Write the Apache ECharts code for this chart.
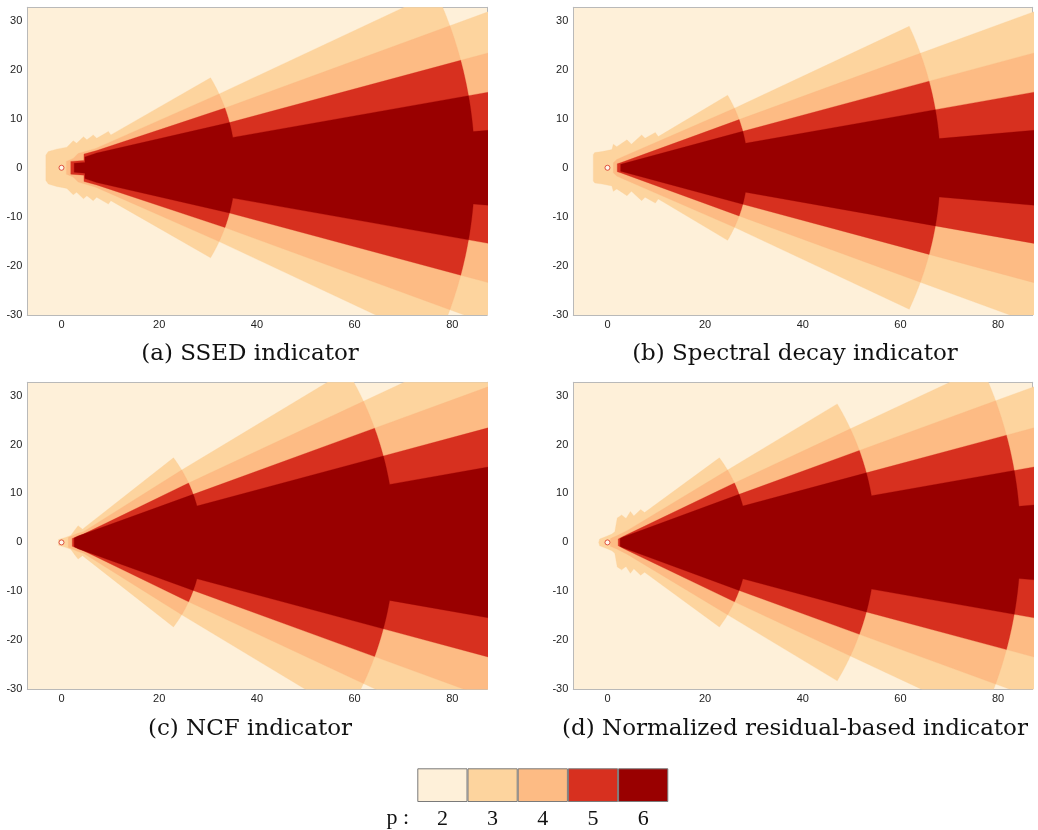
<!DOCTYPE html>
<html>
<head>
<meta charset="utf-8">
<style>
  html, body { margin: 0; padding: 0; background: #ffffff; }
  #chart { width: 1038px; height: 830px; }
</style>
<script src="https://cdn.jsdelivr.net/npm/echarts@6/dist/echarts.min.js"></script>
</head>
<body>
<div id="chart"></div>
<script>
// ---------------- DATA ----------------
const pLevels = [2, 3, 4, 5, 6];
const panelTitles = ['(a) SSED indicator', '(b) Spectral decay indicator',
                     '(c) NCF indicator', '(d) Normalized residual-based indicator'];

// Panel (a) SSED: mesh arcs (radius) where p changes, angle (deg) of the p-boundary in each ring, near-cylinder cell outline
const ssedArcRadii = [35.6, 84.6];
const ssedArcAngles = [[31, 25, 20], [25, 20, 15], [20, 15, 10], [15, 10, 5]];
const ssedNearCells = [
  [[-3.2,0],[-3.2,2.6],[-2.7,3.3],[-1.0,3.8],[1.1,4.2],[2.4,5.5],[3.1,5.0],[4.5,6.3],[5.2,5.7],[6.5,6.7],[7.2,6.0],[9.6,7.4],[10.1,6.7]],
  [[1.0,0],[1.0,1.3],[2.4,1.9],[3.4,2.9],[6.9,3.9]],
  [[1.9,0],[1.9,1.3],[4.6,1.5],[4.6,2.8],[7.2,3.5]],
  [[2.6,0],[2.6,0.9],[4.8,1.1],[4.8,2.2],[7.2,3.0]]
];

// Panel (b) Spectral decay
const decayArcRadii = [28.7, 68.2];
const decayArcAngles = [[31, 25, 20], [25, 20, 15], [20, 15, 10], [15, 10, 5]];
const decayNearCells = [
  [[-2.9,0],[-2.9,2.7],[-2.6,3.1],[-1.1,3.3],[0.9,3.7],[1.2,4.8],[1.9,4.3],[4.0,5.7],[4.9,4.8],[7.0,6.7],[7.7,6.0],[9.8,7.2],[10.4,6.35]],
  [[1.2,0],[1.2,1.0],[1.9,1.7],[3.5,2.4]],
  [[2.0,0],[2.0,0.8],[2.8,1.05]],
  [[2.7,0],[2.7,0.7]]
];

// Panel (c) NCF
const ncfArcRadii = [28.7, 68.2];
const ncfArcAngles = [[37, 31, 25], [31, 25, 20], [25, 20, 15], [20, 15, 10]];
const ncfNearCells = [
  [[-0.6,0],[-0.6,0.6],[0.8,1.0],[1.9,1.4],[2.7,2.5],[3.4,3.4],[4.3,2.7]],
  [[1.4,0],[1.4,1.0],[3.2,1.8],[4.5,2.2]],
  [[2.2,0],[2.2,0.8],[4.5,1.7]],
  [[2.6,0],[2.6,0.9],[3.4,1.3]]
];

// Panel (d) Normalized residual
const residArcRadii = [28.7, 54.9, 84.6];
const residArcAngles = [[37, 31, 25, 20], [31, 25, 20, 15], [25, 20, 15, 10], [20, 15, 10, 5]];
const residNearCells = [
  [[-1.8,0],[-1.6,0.7],[-0.3,1.2],[0.9,1.7],[1.5,2.2],[2.0,5.0],[2.9,5.6],[3.8,4.9],[4.7,6.3],[5.4,5.4],[6.8,6.7],[7.6,6.1]],
  [[0.6,0],[0.6,0.8],[2.0,1.4],[4.0,2.4]],
  [[2.2,0],[2.2,0.7],[4.0,1.6]],
  [[2.6,0],[2.6,0.8],[3.2,1.1]]
];

const cylinderCenter = [[0, 0]];
const xTicks = [0, 20, 40, 60, 80];
const yTicks = [-30, -20, -10, 0, 10, 20, 30];

// ---------------- STYLE ----------------
const pColors = ['#fef0d9', '#fdd49e', '#fdbb84', '#d7301f', '#990000'];
const FAR = 140;
const panels = [
  { near: ssedNearCells,  radii: ssedArcRadii,  angles: ssedArcAngles },
  { near: decayNearCells, radii: decayArcRadii, angles: decayArcAngles },
  { near: ncfNearCells,   radii: ncfArcRadii,   angles: ncfArcAngles },
  { near: residNearCells, radii: residArcRadii, angles: residArcAngles }
];
const gridBoxes = [
  { left: 27.3, top: 7.3, width: 459.7, height: 307.7 },
  { left: 573.3, top: 7.3, width: 459.4, height: 307.7 },
  { left: 27.3, top: 382.3, width: 459.7, height: 307 },
  { left: 573.3, top: 382.3, width: 459.4, height: 307 }
];
const captionPos = [[250, 354], [795, 354], [250, 729], [795, 729]];
const serifFont = '"DejaVu Serif", "Liberation Serif", serif';

function upperBoundary(near, radii, angles) {
  const pts = near.map(p => [p[0], p[1]]);
  radii.forEach((r, i) => {
    const t1 = angles[i], t2 = angles[i + 1];
    const n = 16;
    for (let k = 0; k <= n; k++) {
      const t = (t1 + (t2 - t1) * k / n) * Math.PI / 180;
      pts.push([r * Math.cos(t), r * Math.sin(t)]);
    }
  });
  const tEnd = angles[angles.length - 1] * Math.PI / 180;
  pts.push([FAR * Math.cos(tEnd), FAR * Math.sin(tEnd)]);
  return pts;
}
function fullRegion(near, radii, angles) {
  const up = upperBoundary(near, radii, angles);
  const low = up.slice().reverse().map(p => [p[0], -p[1]]);
  return up.concat(low);
}

const chart = echarts.init(document.getElementById('chart'), null, { renderer: 'canvas' });

const grids = [], xAxes = [], yAxes = [], series = [], graphics = [];
const frameColor = '#b9b9b9';
const tickFont = { fontFamily: '"Liberation Sans", Arial, sans-serif', fontSize: 11, color: '#222' };

panels.forEach((pan, i) => {
  grids.push(Object.assign({ show: true, backgroundColor: pColors[0], borderWidth: 0 }, gridBoxes[i]));
  xAxes.push({
    gridIndex: i, type: 'value', min: -7, max: 87.1, interval: 1, position: 'bottom',
    axisLine: { show: true, onZero: false, lineStyle: { color: frameColor, width: 1 } },
    axisTick: { show: false }, splitLine: { show: false },
    axisLabel: Object.assign({ margin: 4, showMinLabel: true, showMaxLabel: true,
      formatter: v => (xTicks.indexOf(Math.round(v)) >= 0 && Math.abs(v - Math.round(v)) < 1e-6) ? String(Math.round(v)) : '' }, tickFont)
  });
  xAxes.push({
    gridIndex: i, type: 'value', min: -7, max: 87.1, position: 'top',
    axisLine: { show: true, onZero: false, lineStyle: { color: frameColor, width: 1 } },
    axisTick: { show: false }, splitLine: { show: false }, axisLabel: { show: false }
  });
  yAxes.push({
    gridIndex: i, type: 'value', min: -30, max: 32.7, interval: 10, position: 'left',
    axisLine: { show: true, onZero: false, lineStyle: { color: frameColor, width: 1 } },
    axisTick: { show: false }, splitLine: { show: false },
    axisLabel: Object.assign({ margin: 5,
      formatter: v => (yTicks.indexOf(Math.round(v)) >= 0 && Math.abs(v - Math.round(v)) < 1e-6) ? String(Math.round(v)) : '' }, tickFont)
  });
  yAxes.push({
    gridIndex: i, type: 'value', min: -30, max: 32.7, position: 'right',
    axisLine: { show: true, onZero: false, lineStyle: { color: frameColor, width: 1 } },
    axisTick: { show: false }, splitLine: { show: false }, axisLabel: { show: false }
  });
  series.push({
    type: 'custom', xAxisIndex: 2 * i, yAxisIndex: 2 * i, clip: true, silent: true, z: 1,
    data: pan.near.map((_, k) => [0, 0, k]),
    renderItem: (params, api) => {
      const k = params.dataIndex;
      const pts = fullRegion(pan.near[k], pan.radii, pan.angles[k]).map(p => api.coord(p));
      return { type: 'polygon', z2: k, shape: { points: pts },
               style: { fill: pColors[k + 1], stroke: pColors[k + 1], lineWidth: 0.3 } };
    }
  });
  series.push({
    type: 'scatter', xAxisIndex: 2 * i, yAxisIndex: 2 * i, silent: true, z: 3,
    data: cylinderCenter, symbol: 'circle', symbolSize: 5,
    itemStyle: { color: '#ffffff', borderColor: '#d7301f', borderWidth: 1 }
  });
  graphics.push({
    type: 'text', x: captionPos[i][0], y: captionPos[i][1], silent: true,
    style: { text: panelTitles[i], font: '23px ' + serifFont,
             fill: '#111', align: 'center', verticalAlign: 'middle', textAlign: 'center', textVerticalAlign: 'middle' }
  });
});

// legend colour bar
grids.push({ left: 417.3, top: 768.3, width: 251, height: 35, show: false });
xAxes.push({
  gridIndex: 4, type: 'category', data: pLevels.map(String),
  axisLine: { show: false }, axisTick: { show: false },
  axisLabel: { margin: 6, fontFamily: '"Liberation Serif", "Times New Roman", serif', fontSize: 22, color: '#111' }
});
yAxes.push({ gridIndex: 4, type: 'value', min: 0, max: 1, show: false });
series.push({
  type: 'bar', xAxisIndex: 8, yAxisIndex: 8, barWidth: '100%', silent: true,
  data: pLevels.map((p, i) => ({ value: 1, itemStyle: { color: pColors[i] } })),
  itemStyle: { borderColor: '#7a7a7a', borderWidth: 1 }
});
graphics.push({
  type: 'text', x: 409, y: 818, silent: true,
  style: { text: 'p :', font: '22px "Liberation Serif", "Times New Roman", serif', fill: '#111',
           align: 'right', verticalAlign: 'middle', textAlign: 'right', textVerticalAlign: 'middle' }
});

chart.setOption({
  animation: false,
  backgroundColor: '#ffffff',
  grid: grids, xAxis: xAxes, yAxis: yAxes, series: series, graphic: graphics
});
</script>
</body>
</html>
